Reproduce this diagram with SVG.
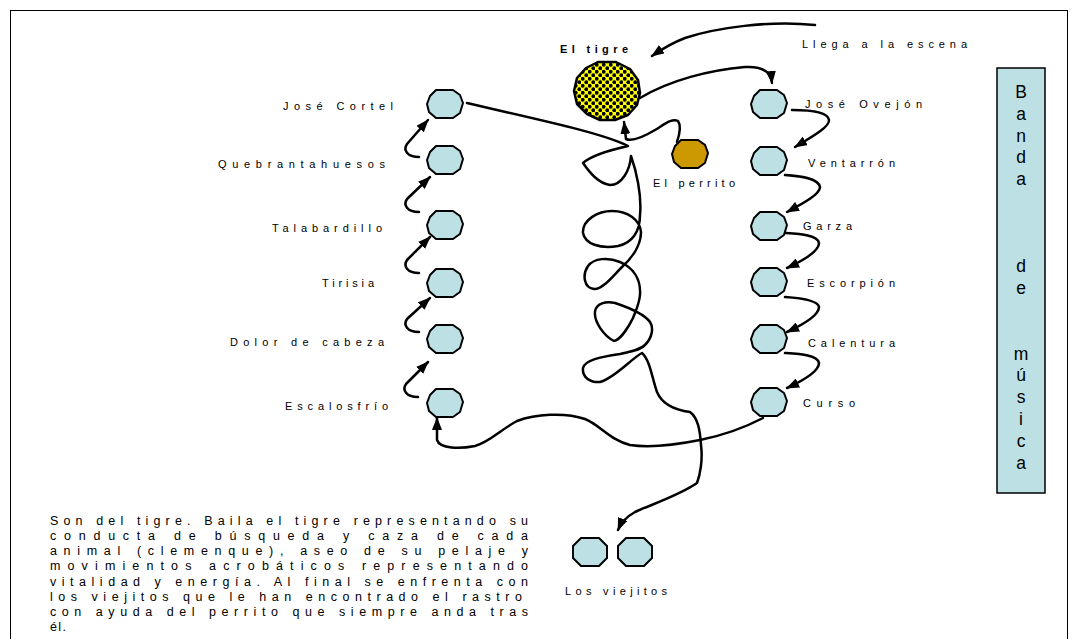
<svg xmlns="http://www.w3.org/2000/svg" xmlns:xlink="http://www.w3.org/1999/xlink" width="1077" height="639" viewBox="0 0 1077 639">
<style>
.node{fill:#BCE0E3;stroke:#000;stroke-width:2;stroke-linejoin:round}
.lbl{font-family:"Liberation Sans",Arial,sans-serif;font-size:11px;fill:#000}
.band{font-family:"Liberation Sans",Arial,sans-serif;font-size:17.5px;fill:#000;text-anchor:middle}
.desc{font-family:"Liberation Sans",Arial,sans-serif;font-size:12.5px;fill:#000}
.con{fill:none;stroke:#000;stroke-width:2.5;stroke-linecap:round;stroke-linejoin:round}
.arr{marker-end:url(#ah)}
</style>
<defs>
<marker id="ah" markerUnits="userSpaceOnUse" markerWidth="13" markerHeight="10" refX="12" refY="5" orient="auto">
<path d="M0,0 L13,5 L0,10 z" fill="#000"/>
</marker>
<path id="oct" d="M-9,-14 L8,-14 L15,-9 L18,-1 L15,9 L8,14 L-9,14 L-16,8 L-18,0 L-15,-8 Z"/>
<path id="oct2" d="M-9,-14 L9,-14 L17,-6 L17,6 L9,14 L-9,14 L-17,6 L-17,-6 Z"/>
<pattern id="dots" width="7" height="7" patternUnits="userSpaceOnUse">
<rect width="7" height="7" fill="#FFFF00"/>
<circle cx="1.75" cy="1.75" r="1.9" fill="#000"/>
<circle cx="5.25" cy="5.25" r="1.9" fill="#000"/>
</pattern>
</defs>
<rect x="0" y="0" width="1077" height="639" fill="#fff"/>
<rect x="10.5" y="10.5" width="1057" height="700" fill="none" stroke="#000" stroke-width="1"/>

<g id="connectors">
<path class="con arr" d="M815,25 C770,20 715,28 685,38 C672,43 662,49 652,56"/>
<path class="con arr" d="M640,98 C670,80 710,70 745,67 C762,66 771,72 772,83"/>
<path class="con arr" d="M677,142 C680,133 681,125 678,121 C672,118 665,124 655,130 C645,136 633,142 626,139 L624,122"/>
<path class="con arr" d="M467,103 C530,118 600,132 628,146 C610,150 592,155 583,163 C590,173 598,183 610,185 C622,185 630,170 631,156 C636,170 642,195 640,215 C640,232 632,243 618,246 C600,249 585,244 583,233 C582,220 598,211 612,211 C628,211 640,220 641,232 C641,245 632,258 622,267 C612,277 602,290 594,289 C584,288 582,275 588,266 C594,258 608,257 620,262 C634,268 641,280 640,295 C639,305 636,310 633,318 C628,328 620,340 614,341 C604,336 594,322 595,312 C596,303 606,301 615,303 C630,308 645,315 650,322 C654,328 652,338 645,345 C640,350 630,352 620,354 C600,357 585,360 583,368 C582,377 590,383 600,382 C615,378 632,358 642,353 C650,360 652,378 657,392 C662,404 675,410 690,412 C698,418 700,430 701,445 C703,460 700,475 697,483 C680,495 650,505 635,512 C626,517 621,523 618,530"/>
<path class="con arr" d="M763,418 C740,430 715,437 700,440 C680,444 650,448 630,445 C610,440 600,425 585,419 C565,412 535,414 517,421 C500,430 490,442 475,446 C460,449 440,449 437,440 L437,418"/>
<path class="con arr" d="M419,157 C407,157 403,150 407,144 L428,120"/>
<path class="con arr" d="M419,212 C407,212 403,205 407,199 L430,177"/>
<path class="con arr" d="M419,273 C407,273 403,266 407,260 L430,237"/>
<path class="con arr" d="M419,332 C407,332 403,325 407,319 L430,298"/>
<path class="con arr" d="M418,397 C406,397 402,390 406,384 L428,362"/>
<path class="con arr" d="M792,110 C810,110 828,112 829,120 C830,127 810,138 795,147"/>
<path class="con arr" d="M785,175 C800,176 818,178 820,187 C820,195 800,205 787,212"/>
<path class="con arr" d="M785,233 C800,234 818,235 819,243 C819,252 800,262 787,268"/>
<path class="con arr" d="M785,297 C800,298 818,300 819,307 C819,316 800,326 787,332"/>
<path class="con arr" d="M785,353 C800,354 818,355 819,363 C819,372 800,382 787,388"/>
</g>

<g id="tigre">
<path d="M598,62 L616,62 L630,69 L638,80 L640,93 L637,105 L628,115 L615,120 L600,120 L587,114 L577,104 L574,91 L577,78 L586,68 Z" fill="url(#dots)" stroke="#000" stroke-width="2.5" stroke-linejoin="round"/>
<text class="lbl" x="560" y="53" font-weight="bold" textLength="68" lengthAdjust="spacing">El tigre</text>
</g>
<g id="llega"><text class="lbl" x="802" y="48" textLength="165" lengthAdjust="spacing">Llega a la escena</text></g>
<g id="perrito">
<use href="#oct" x="690" y="154" fill="#CC9900" stroke="#000" stroke-width="2"/>
<text class="lbl" x="653" y="187" textLength="82" lengthAdjust="spacing">El perrito</text>
</g>

<g id="jose-cortel"><use href="#oct" x="445" y="104" class="node"/><text class="lbl" x="283" y="110" textLength="110" lengthAdjust="spacing">José Cortel</text></g>
<g id="quebrantahuesos"><use href="#oct" x="445" y="160" class="node"/><text class="lbl" x="218" y="168" textLength="167" lengthAdjust="spacing">Quebrantahuesos</text></g>
<g id="talabardillo"><use href="#oct" x="445" y="225" class="node"/><text class="lbl" x="272" y="232" textLength="110" lengthAdjust="spacing">Talabardillo</text></g>
<g id="tirisia"><use href="#oct" x="445" y="283" class="node"/><text class="lbl" x="322" y="287" textLength="52" lengthAdjust="spacing">Tirisia</text></g>
<g id="dolor"><use href="#oct" x="445" y="339" class="node"/><text class="lbl" x="230" y="346" textLength="154" lengthAdjust="spacing">Dolor de cabeza</text></g>
<g id="escalosfrio"><use href="#oct" x="445" y="403" class="node"/><text class="lbl" x="285" y="410" textLength="103" lengthAdjust="spacing">Escalosfrío</text></g>

<g id="jose-ovejon"><use href="#oct" x="769" y="104" class="node"/><text class="lbl" x="805" y="108" textLength="117" lengthAdjust="spacing">José Ovejón</text></g>
<g id="ventarron"><use href="#oct" x="769" y="161" class="node"/><text class="lbl" x="808" y="167" textLength="87" lengthAdjust="spacing">Ventarrón</text></g>
<g id="garza"><use href="#oct" x="769" y="226" class="node"/><text class="lbl" x="803" y="230" textLength="49" lengthAdjust="spacing">Garza</text></g>
<g id="escorpion"><use href="#oct" x="769" y="282" class="node"/><text class="lbl" x="807" y="287" textLength="88" lengthAdjust="spacing">Escorpión</text></g>
<g id="calentura"><use href="#oct" x="769" y="339" class="node"/><text class="lbl" x="808" y="347" textLength="87" lengthAdjust="spacing">Calentura</text></g>
<g id="curso"><use href="#oct" x="769" y="402" class="node"/><text class="lbl" x="803" y="407" textLength="52" lengthAdjust="spacing">Curso</text></g>

<g id="viejitos">
<use href="#oct2" x="590" y="552" class="node"/>
<use href="#oct2" x="635" y="552" class="node"/>
<text class="lbl" x="565" y="595" textLength="102" lengthAdjust="spacing">Los viejitos</text>
</g>

<g id="banda">
<rect x="997" y="68" width="48" height="425" fill="#BCE0E3" stroke="#000" stroke-width="1.5"/>
<text class="band" x="1021" y="98">B</text>
<text class="band" x="1021" y="120">a</text>
<text class="band" x="1021" y="142">n</text>
<text class="band" x="1021" y="163">d</text>
<text class="band" x="1021" y="185">a</text>
<text class="band" x="1021" y="272">d</text>
<text class="band" x="1021" y="294">e</text>
<text class="band" x="1021" y="360">m</text>
<text class="band" x="1021" y="381">ú</text>
<text class="band" x="1021" y="403">s</text>
<text class="band" x="1021" y="425">i</text>
<text class="band" x="1021" y="447">c</text>
<text class="band" x="1021" y="469">a</text>
</g>

<g id="descripcion">
<text class="desc" x="50" y="525" textLength="478" lengthAdjust="spacing">Son del tigre. Baila el tigre representando su</text>
<text class="desc" x="50" y="540" textLength="478" lengthAdjust="spacing">conducta de búsqueda y caza de cada</text>
<text class="desc" x="50" y="555" textLength="478" lengthAdjust="spacing">animal (clemenque), aseo de su pelaje y</text>
<text class="desc" x="50" y="570" textLength="478" lengthAdjust="spacing">movimientos acrobáticos representando</text>
<text class="desc" x="50" y="586" textLength="478" lengthAdjust="spacing">vitalidad y energía. Al final se enfrenta con</text>
<text class="desc" x="50" y="601" textLength="472" lengthAdjust="spacing">los viejitos que le han encontrado el rastro</text>
<text class="desc" x="50" y="616" textLength="478" lengthAdjust="spacing">con ayuda del perrito que siempre anda tras</text>
<text class="desc" x="50" y="631" textLength="16" lengthAdjust="spacing">él.</text>
</g>
</svg>
